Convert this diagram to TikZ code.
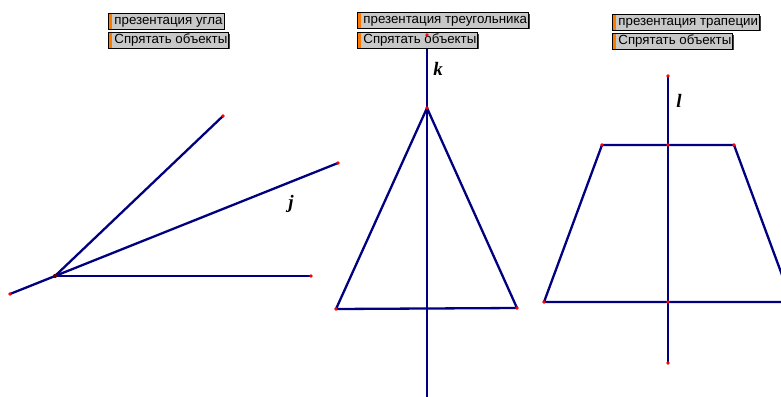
\documentclass[tikz,border=0pt]{standalone}
\usepackage{fontspec}
\setmainfont{Liberation Sans}
\newfontfamily\lblfont{Liberation Serif}
\usetikzlibrary{shadows}
\definecolor{navy}{RGB}{0,0,128}
\definecolor{btngray}{RGB}{200,200,200}
\definecolor{barorange}{RGB}{255,120,0}
\begin{document}
\begin{tikzpicture}[x=1pt,y=-1pt,
  btnbox/.style={draw=black, line width=0.8pt, fill=btngray, anchor=north west,
    inner ysep=1.5pt, inner xsep=1.5pt, text height=9.6pt, text depth=3pt,
    font=\fontsize{13.3}{14}\selectfont,
    drop shadow={shadow xshift=1.3pt, shadow yshift=-1.3pt, opacity=1, fill=black!75},
    path picture={\fill[barorange] (path picture bounding box.north west) rectangle ([xshift=4pt]path picture bounding box.south west);}},
  seg/.style={draw=navy, line width=2.3pt},
  pt/.style={circle, fill=red, inner sep=0pt, minimum size=3.8pt},
  vpt/.style={circle, fill=red!40!black, inner sep=0pt, minimum size=4.2pt},
  lbl/.style={font=\lblfont\bfseries\itshape\fontsize{19}{19}\selectfont}]
\useasboundingbox (0,0) rectangle (781,396);
\clip (0,0) rectangle (781,396);
% ---- angle ----
\coordinate (V) at (55,276);
\coordinate (A1) at (223,116);
\coordinate (J2) at (338,163);
\coordinate (A2) at (311,276);
\coordinate (J1) at (10,294);
\draw[seg] (V) -- (A1);
\draw[seg] (J1) -- (J2);
\draw[seg] (V) -- (A2);
\node[lbl] (jl) at (291,204) {j};
% ---- triangle ----
\coordinate (Kt) at (427,35);
\coordinate (Kb) at (427,400);
\coordinate (T) at (427,108);
\coordinate (TL) at (336,309);
\coordinate (TR) at (517,308);
\draw[seg] (Kt) -- (Kb);
\draw[seg, line join=round] (T) -- (TL) -- (TR) -- cycle;
\node[lbl] (kl) at (438,69) {k};
% ---- trapezoid ----
\coordinate (Lt) at (668,76);
\coordinate (Lb) at (668,363);
\coordinate (P1) at (602,145);
\coordinate (P2) at (734,145);
\coordinate (P3) at (792,302);
\coordinate (P4) at (544,302);
\coordinate (M1) at (668,145);
\coordinate (M2) at (668,302);
\draw[seg] (Lt) -- (Lb);
\draw[seg, line join=round] (P1) -- (P2) -- (P3) -- (P4) -- cycle;
\node[lbl] (ll) at (679,101) {l};
% ---- buttons ----
\node[btnbox] (b1) at (108,13) {\hspace*{4.5pt}презентация угла};
\node[btnbox] (b2) at (108,32) {\hspace*{4.5pt}Спрятать объекты};
\node[btnbox] (b3) at (357,12) {\hspace*{4.5pt}презентация треугольника};
\node[btnbox] (b4) at (357,32) {\hspace*{4.5pt}Спрятать объекты};
\node[btnbox] (b5) at (612,14) {\hspace*{4.5pt}презентация трапеции};
\node[btnbox] (b6) at (612,33) {\hspace*{4.5pt}Спрятать объекты};
% ---- points ----
\foreach \p in {A1,J2,A2,J1,Kt,T,TL,TR,Lt,Lb,P1,P2,P4,M1,M2}
  \node[pt] at (\p) {};
\node[vpt] (Vd) at (V) {};
\end{tikzpicture}
\end{document}
